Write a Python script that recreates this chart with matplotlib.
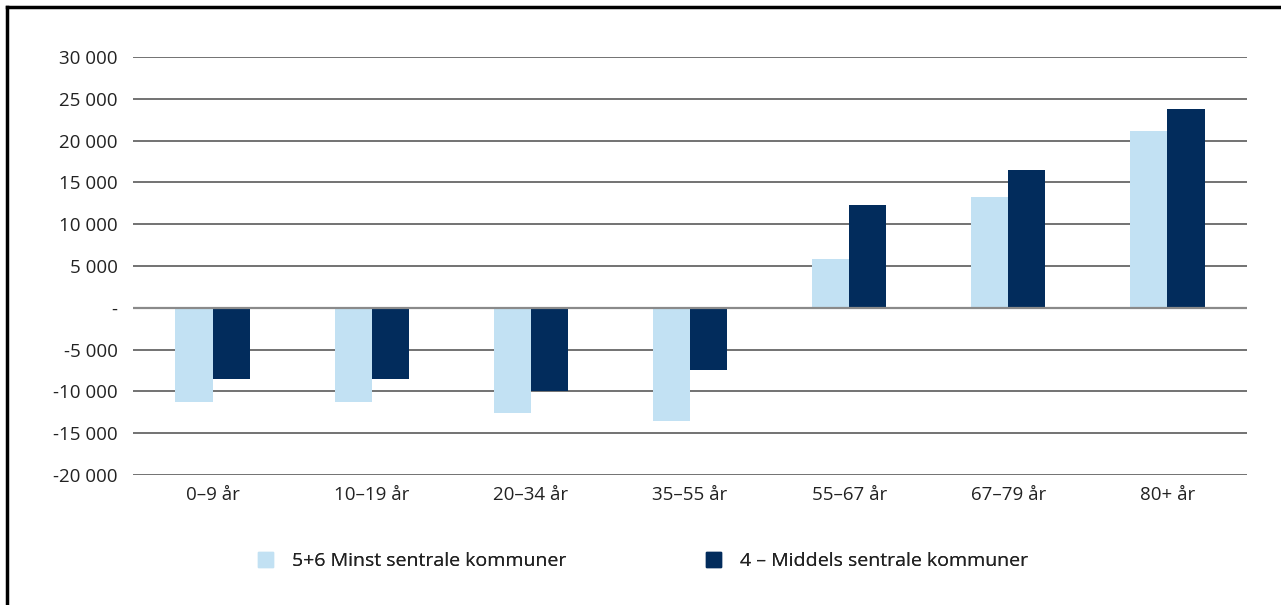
import matplotlib
matplotlib.use("Agg")
from matplotlib import pyplot as plt
from matplotlib.lines import Line2D
from matplotlib.patches import Patch
import numpy as np

categories = ['0–9 år', '10–19 år', '20–34 år', '35–55 år', '55–67 år', '67–79 år', '80+ år']
minst = [-11300, -11300, -12600, -13550, 5880, 13200, 21100]
middels = [-8500, -8500, -9900, -7400, 12350, 16450, 23750]
series_names = ['5+6 Minst sentrale kommuner', '4 – Middels sentrale kommuner']
yticks = [-20000, -15000, -10000, -5000, 0, 5000, 10000, 15000, 20000, 25000, 30000]

light = '#c2e1f3'
dark = '#022c5c'

plt.rcParams['font.family'] = ['Open Sans', 'DejaVu Sans']

def fmt(v):
    if v == 0:
        return '-'
    s = '{:,}'.format(abs(v)).replace(',', ' ')
    return ('-' if v < 0 else '') + s

fig = plt.figure(figsize=(12.81, 6.05), dpi=100)
ax = fig.add_axes([0.1038, 0.2149, 0.8697, 0.6909])

x = np.arange(len(categories))
w = 0.233
ax.bar(x - w / 2, minst, w, color=light, zorder=3)
ax.bar(x + w / 2, middels, w, color=dark, zorder=3)

ax.set_xlim(-0.5, len(categories) - 0.5)
ax.set_ylim(-20000, 30000)
ax.set_yticks(yticks)
ax.set_yticklabels([fmt(v) for v in yticks], fontsize=13.5, color='#222222')
ax.set_xticks(x)
ax.set_xticklabels(categories, fontsize=13.5, color='#222222')
ax.tick_params(axis='both', length=0)
ax.tick_params(axis='y', pad=11)
ax.tick_params(axis='x', pad=8)

for v in yticks:
    ax.axhline(v, color='#5a5a5a', lw=1.2, zorder=1)
ax.axhline(0, color='#8a8a8a', lw=1.6, zorder=4)
for s in ax.spines.values():
    s.set_visible(False)

# two legend entries placed separately
for col, name, xpos in [(light, series_names[0], 258 / 1281), (dark, series_names[1], 706 / 1281)]:
    leg = fig.legend([Patch(color=col)], [name], loc='center left', bbox_to_anchor=(xpos, 0.0727),
                     frameon=False, fontsize=14, handlelength=0.77, handleheight=0.77,
                     handletextpad=0.98, borderpad=0, borderaxespad=0)
    for t in leg.get_texts():
        t.set_color('#222222')
    fig.add_artist(leg)

# frame lines (top and left)
fig.add_artist(Line2D([0.0055, 0.0055], [0, 0.9885], transform=fig.transFigure, color='black', lw=2.5))
fig.add_artist(Line2D([0.0055, 1.0], [0.9885, 0.9885], transform=fig.transFigure, color='black', lw=2.5))

fig.savefig('out.png', dpi=100)
